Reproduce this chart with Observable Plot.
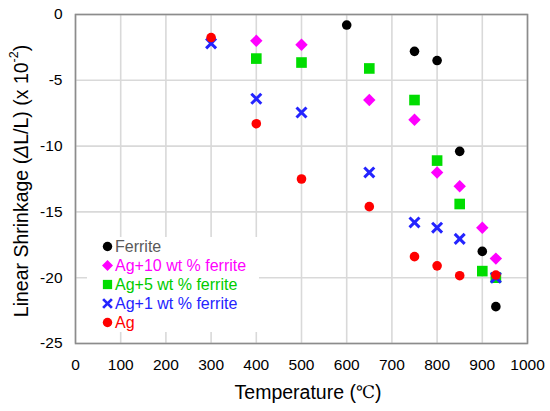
<!DOCTYPE html>
<html>
<head>
<meta charset="utf-8">
<script src="https://cdn.jsdelivr.net/npm/d3@7"></script>
<script src="https://cdn.jsdelivr.net/npm/@observablehq/plot@0.6"></script>
<style>
  html, body { margin: 0; padding: 0; background: #fff; }
  #wrap { position: relative; width: 550px; height: 411px; font-family: "Liberation Sans", Arial, sans-serif; }
  #legend { position: absolute; left: 87px; top: 237px; width: 172px; height: 95px; background: #fff; }
  .row { position: absolute; left: 0; height: 19px; line-height: 19px; font-size: 16px; white-space: nowrap; }
  .row svg { position: absolute; left: 15px; top: 4px; }
  .row span { position: absolute; left: 28px; top: 0; }
</style>
</head>
<body>
<div id="wrap"></div>
<script>
// ---- data ----
const seriesNames = ["Ferrite", "Ag+10 wt % ferrite", "Ag+5 wt % ferrite", "Ag+1 wt % ferrite", "Ag"];
const seriesColors = ["#000000", "#ff00ff", "#00dd00", "#2424ff", "#ff0000"];
const seriesSymbols = ["circle", "diamond2", "square", "times", "circle"];
const legendTextColors = ["#595959", "#ff00ff", "#00cc00", "#2424ff", "#ff0000"];

const ferriteT = [600, 750, 800, 850, 900, 930];
const ferriteY = [-0.8, -2.8, -3.5, -10.4, -18.0, -22.2];
const ag10T = [400, 500, 650, 750, 800, 850, 900, 930];
const ag10Y = [-2.0, -2.3, -6.5, -8.0, -12.0, -13.05, -16.2, -18.55];
const ag5T = [400, 500, 650, 750, 800, 850, 900, 930];
const ag5Y = [-3.35, -3.65, -4.1, -6.5, -11.1, -14.4, -19.5, -20.0];
const ag1T = [300, 400, 500, 650, 750, 800, 850, 930];
const ag1Y = [-2.2, -6.4, -7.45, -12.0, -15.8, -16.2, -17.05, -20.0];
const agT = [300, 400, 500, 650, 750, 800, 850, 930];
const agY = [-1.75, -8.3, -12.5, -14.6, -18.4, -19.1, -19.85, -19.8];

const xTicks = [0, 100, 200, 300, 400, 500, 600, 700, 800, 900, 1000];
const yTicks = [-25, -20, -15, -10, -5, 0];

const seriesT = [ferriteT, ag10T, ag5T, ag1T, agT];
const seriesY = [ferriteY, ag10Y, ag5Y, ag1Y, agY];

const seriesData = seriesT.map((ts, i) => ts.map((t, j) => ({ t, v: seriesY[i][j] })));

const symbolR = { circle: 4.8, diamond2: 5.6, square: 6.0, times: 4.6 };

const dotMarks = seriesData.map((data, i) => {
  const sym = seriesSymbols[i];
  if (sym === "times") {
    return Plot.dot(data, { x: "t", y: "v", symbol: sym, r: symbolR[sym], stroke: seriesColors[i], strokeWidth: 3, fill: "none" });
  }
  return Plot.dot(data, { x: "t", y: "v", symbol: sym, r: symbolR[sym], fill: seriesColors[i], stroke: "none" });
});

const chart = Plot.plot({
  width: 550,
  height: 411,
  marginLeft: 75,
  marginRight: 23,
  marginTop: 14,
  marginBottom: 68,
  style: { fontFamily: "'Liberation Sans', Arial, sans-serif", fontSize: "15.5px", color: "#000", background: "#fff" },
  x: { domain: [0, 1000], ticks: xTicks },
  y: { domain: [-25, 0], ticks: yTicks },
  marks: [
    Plot.gridX(xTicks, { stroke: "#d9d9d9", strokeOpacity: 1, strokeWidth: 1.6 }),
    Plot.gridY(yTicks, { stroke: "#d9d9d9", strokeOpacity: 1, strokeWidth: 1.6 }),
    Plot.frame({ stroke: "#8c8c8c", strokeWidth: 1.6 }),
    Plot.axisX(xTicks, { tickSize: 0, tickPadding: 15, label: null, tickFormat: d => String(d) }),
    Plot.axisY(yTicks, { tickSize: 0, tickPadding: 13, label: null, tickFormat: d => String(d) }),
    ...dotMarks
  ]
});

const wrap = document.getElementById("wrap");
wrap.appendChild(chart);

const svg = d3.select(chart);
// y-axis title
const yl = svg.append("text")
  .attr("transform", "translate(21,181) rotate(-90)")
  .attr("text-anchor", "middle")
  .attr("dominant-baseline", "central")
  .attr("font-size", 19.5)
  .attr("fill", "#000");
yl.append("tspan").text("Linear Shrinkage (");
yl.append("tspan").attr("font-style", "italic").text("Δ");
yl.append("tspan").text("L/L) (x 10");
yl.append("tspan").attr("font-size", 12.5).attr("dy", "-0.55em").text("-2");
yl.append("tspan").attr("dy", "0.35em").text(")");

// x-axis title
const xl = svg.append("text")
  .attr("transform", "translate(308,392)")
  .attr("text-anchor", "middle")
  .attr("dominant-baseline", "central")
  .attr("font-size", 19.5)
  .attr("fill", "#000");
xl.append("tspan").text("Temperature (");
xl.append("tspan").attr("font-family", "'DejaVu Serif', 'Noto Sans CJK JP', serif").attr("font-size", 17).text("℃");
xl.append("tspan").text(")");

// legend
const legend = document.createElement("div");
legend.id = "legend";
wrap.appendChild(legend);
const legendSym = {
  circle: '<circle cx="5" cy="5" r="4.3"/>',
  diamond2: '<path d="M5,0L10,5L5,10L0,5Z"/>',
  square: '<rect x="0.8" y="0.8" width="8.4" height="8.4"/>',
  times: '<path d="M1,1L9,9M9,1L1,9" fill="none" stroke-width="2.5"/>'
};
seriesNames.forEach((name, i) => {
  const row = document.createElement("div");
  row.className = "row";
  row.style.top = (i * 19) + "px";
  const sym = seriesSymbols[i];
  const col = seriesColors[i];
  row.innerHTML = `<svg width="11" height="11" viewBox="0 0 10 10" style="overflow:visible" fill="${col}" stroke="${col}" stroke-width="0">${legendSym[sym]}</svg><span style="color:${legendTextColors[i]}">${name}</span>`;
  legend.appendChild(row);
});
</script>
</body>
</html>
